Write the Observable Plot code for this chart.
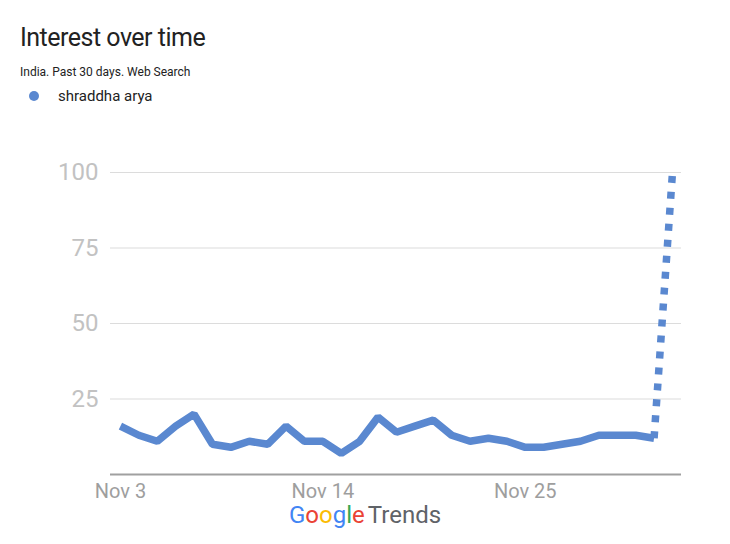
<!DOCTYPE html>
<html>
<head>
<meta charset="utf-8">
<script src="https://cdn.jsdelivr.net/npm/d3@7"></script>
<script src="https://cdn.jsdelivr.net/npm/@observablehq/plot@0.6"></script>
<style>
  html, body { margin: 0; padding: 0; background: #fff; }
  body { font-family: Roboto, "Noto Sans", sans-serif; }
  #wrap { position: relative; width: 730px; height: 544px; overflow: hidden; }
  #title { position: absolute; left: 20px; top: 23px; font-size: 25px; color: #222; letter-spacing: -0.5px; }
  #subtitle { position: absolute; left: 20px; top: 65px; font-size: 12px; color: #222; }
  #legend { position: absolute; left: 29px; top: 87px; font-size: 15px; color: #222; display: flex; align-items: center; }
  #legend .dot { width: 10px; height: 10px; border-radius: 50%; background: #5a88d0; margin-right: 19px; }
  #chart { position: absolute; left: 0; top: 130px; }
  #logo { position: absolute; left: 289px; top: 501px; font-size: 24px; white-space: nowrap; }
  #logo .t { color: #5f6368; margin-left: 3px; }
</style>
</head>
<body>
<div id="wrap">
  <div id="title">Interest over time</div>
  <div id="subtitle">India. Past 30 days. Web Search</div>
  <div id="legend"><span class="dot"></span><span id="series-name"></span></div>
  <div id="chart"></div>
  <div id="logo"><span style="color:#4285F4">G</span><span style="color:#EA4335">o</span><span style="color:#FBBC05">o</span><span style="color:#4285F4">g</span><span style="color:#34A853">l</span><span style="color:#EA4335">e</span><span class="t">Trends</span></div>
</div>
<script>
const seriesName = "shraddha arya";
const days = ["Nov 3","Nov 4","Nov 5","Nov 6","Nov 7","Nov 8","Nov 9","Nov 10","Nov 11","Nov 12",
  "Nov 13","Nov 14","Nov 15","Nov 16","Nov 17","Nov 18","Nov 19","Nov 20","Nov 21","Nov 22",
  "Nov 23","Nov 24","Nov 25","Nov 26","Nov 27","Nov 28","Nov 29","Nov 30","Dec 1","Dec 2","Dec 3"];
const values = [16,13,11,16,20,10,9,11,10,16,11,11,7,11,19,14,16,18,13,11,12,11,9,9,10,11,13,13,13,12,100];
const xTickLabels = ["Nov 3","Nov 14","Nov 25"];
const yTicks = [25,50,75,100];
const partialFrom = "Dec 2"; // last complete day; after it the data is partial (dotted)

document.getElementById("series-name").textContent = seriesName;

const rows = days.map((d, i) => ({i, day: d, value: values[i]}));
const cut = days.indexOf(partialFrom);
const solid = rows.slice(0, cut + 1);
const partial = rows.slice(cut);
const blue = "#5a88d0";

const chart = Plot.plot({
  width: 730,
  height: 380,
  marginTop: 42,
  marginBottom: 36,
  marginLeft: 110,
  marginRight: 49,
  x: {domain: [-0.54, days.length - 1 + 0.49], axis: null},
  y: {domain: [0, 100], axis: null},
  style: {fontFamily: "Roboto, sans-serif", background: "transparent"},
  marks: [
    Plot.ruleY(yTicks, {stroke: "#dcdcdc", strokeWidth: 1.2}),
    Plot.ruleY([0], {stroke: "#a0a0a0", strokeWidth: 2.2}),
    Plot.axisY(yTicks, {tickSize: 0, tickPadding: 12, fontSize: 24, color: "#c2c2c2", label: null}),
    Plot.axisX(xTickLabels.map(l => days.indexOf(l)), {
      tickSize: 0, tickPadding: 9, fontSize: 20, color: "#9e9e9e", label: null,
      tickFormat: i => days[i]
    }),
    Plot.line(solid, {x: "i", y: "value", stroke: blue, strokeWidth: 7.5, strokeLinejoin: "miter", strokeLinecap: "butt"}),
    Plot.line(partial, {x: "i", y: "value", stroke: blue, strokeWidth: 7.5, strokeDasharray: "7,9", strokeLinecap: "butt"})
  ]
});
document.getElementById("chart").appendChild(chart);
</script>
</body>
</html>
